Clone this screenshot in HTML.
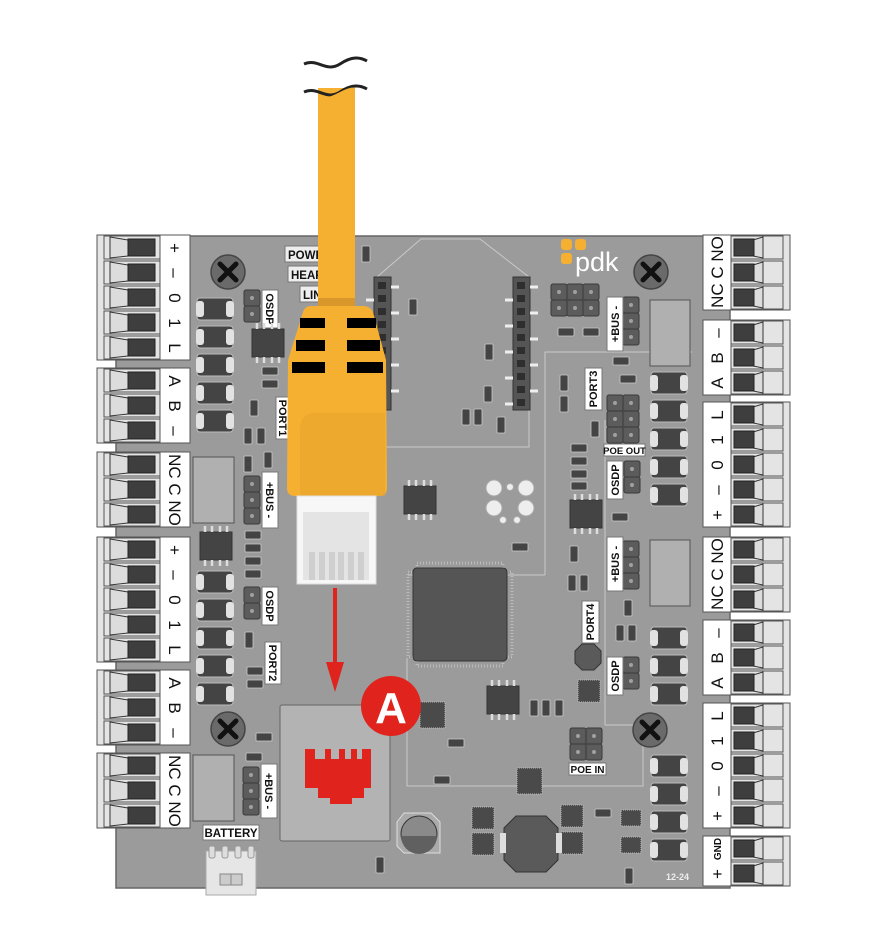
<!DOCTYPE html>
<html><head><meta charset="utf-8"><style>
html,body{margin:0;padding:0;background:#fff;}
svg{display:block;}
text{font-family:"Liberation Sans",Arial,sans-serif;}
</style></head><body>
<svg width="889" height="951" viewBox="0 0 889 951" xmlns="http://www.w3.org/2000/svg">
<defs>
  <g id="pinL">
    <rect x="104" y="1" width="56" height="23" fill="#e4e4e4" stroke="#555" stroke-width="1"/>
    <polygon points="110,2 128,5 128,21 110,23" fill="#dcdcdc" stroke="#333" stroke-width="1"/>
    <rect x="128" y="4" width="27" height="17" fill="#3e3e3e" stroke="#222"/>
  </g>
  <g id="pinR">
    <rect x="731" y="1" width="52" height="23" fill="#e4e4e4" stroke="#555" stroke-width="1"/>
    <polygon points="763,2 753,5 753,21 763,23" fill="#dcdcdc" stroke="#333" stroke-width="1"/>
    <rect x="734" y="4" width="20" height="17" fill="#3e3e3e" stroke="#222"/>
  </g>
  <g id="dio">
    <rect x="0" y="0" width="36" height="22" rx="3" fill="#444" stroke="#bbb"/>
    <rect x="-1" y="3" width="8" height="16" rx="3" fill="#e2e2e2"/>
    <rect x="29" y="3" width="8" height="16" rx="3" fill="#e2e2e2"/>
  </g>
  <g id="rv">
    <rect x="-4" y="-8" width="8" height="16" rx="1" fill="#444" stroke="#ccc" stroke-width="0.8"/>
  </g>
  <g id="rh">
    <rect x="-8" y="-4" width="16" height="8" rx="1" fill="#444" stroke="#ccc" stroke-width="0.8"/>
  </g>
  <g id="hp">
    <rect x="0" y="0" width="16" height="16" rx="2" fill="#5c5c5c" stroke="#3a3a3a"/>
    <circle cx="8" cy="8" r="2" fill="#a0a0a0"/>
  </g>
  <g id="screw">
    <circle r="17" fill="#6a6a6a" stroke="#444" stroke-width="1.5"/>
    <path d="M-8,-8 L8,8 M8,-8 L-8,8" stroke="#111" stroke-width="5" stroke-linecap="round"/>
  </g>
  <g id="chip8">
    <rect x="0" y="6" width="32" height="28" fill="#444" stroke="#333"/>
    <path d="M5,0v6M12,0v6M20,0v6M27,0v6M5,34v6M12,34v6M20,34v6M27,34v6" stroke="#ddd" stroke-width="2.5"/>
  </g>
</defs>

<!-- board -->
<rect x="116" y="236" width="614" height="652" fill="#9b9b9b" stroke="#666" stroke-width="1.5"/>

<!-- left connectors -->
<g>
  <rect x="97" y="235" width="63" height="125" fill="#e4e4e4" stroke="#555"/>
  <rect x="160" y="235" width="30" height="125" fill="#fff" stroke="#555"/>
  <use href="#pinL" y="235"/><use href="#pinL" y="260"/><use href="#pinL" y="285"/><use href="#pinL" y="310"/><use href="#pinL" y="335"/>
  <rect x="97" y="368" width="63" height="75" fill="#e4e4e4" stroke="#555"/>
  <rect x="160" y="368" width="30" height="75" fill="#fff" stroke="#555"/>
  <use href="#pinL" y="368"/><use href="#pinL" y="393"/><use href="#pinL" y="418"/>
  <rect x="97" y="452" width="63" height="75" fill="#e4e4e4" stroke="#555"/>
  <rect x="160" y="452" width="30" height="75" fill="#fff" stroke="#555"/>
  <use href="#pinL" y="452"/><use href="#pinL" y="477"/><use href="#pinL" y="502"/>
  <rect x="97" y="537" width="63" height="125" fill="#e4e4e4" stroke="#555"/>
  <rect x="160" y="537" width="30" height="125" fill="#fff" stroke="#555"/>
  <use href="#pinL" y="537"/><use href="#pinL" y="562"/><use href="#pinL" y="587"/><use href="#pinL" y="612"/><use href="#pinL" y="637"/>
  <rect x="97" y="670" width="63" height="75" fill="#e4e4e4" stroke="#555"/>
  <rect x="160" y="670" width="30" height="75" fill="#fff" stroke="#555"/>
  <use href="#pinL" y="670"/><use href="#pinL" y="695"/><use href="#pinL" y="720"/>
  <rect x="97" y="753" width="63" height="75" fill="#e4e4e4" stroke="#555"/>
  <rect x="160" y="753" width="30" height="75" fill="#fff" stroke="#555"/>
  <use href="#pinL" y="753"/><use href="#pinL" y="778"/><use href="#pinL" y="803"/>
</g>
<g font-size="17" fill="#111" text-anchor="middle">
  <text transform="translate(175,248) rotate(90)" dy="6">+</text>
  <text transform="translate(175,273) rotate(90)" dy="6">–</text>
  <text transform="translate(175,298) rotate(90)" dy="6">0</text>
  <text transform="translate(175,323) rotate(90)" dy="6">1</text>
  <text transform="translate(175,348) rotate(90)" dy="6">L</text>
  <text transform="translate(175,381) rotate(90)" dy="6">A</text>
  <text transform="translate(175,406) rotate(90)" dy="6">B</text>
  <text transform="translate(175,431) rotate(90)" dy="6">–</text>
  <text transform="translate(175,490) rotate(90)" dy="6">NC C NO</text>
  <text transform="translate(175,550) rotate(90)" dy="6">+</text>
  <text transform="translate(175,575) rotate(90)" dy="6">–</text>
  <text transform="translate(175,600) rotate(90)" dy="6">0</text>
  <text transform="translate(175,625) rotate(90)" dy="6">1</text>
  <text transform="translate(175,650) rotate(90)" dy="6">L</text>
  <text transform="translate(175,683) rotate(90)" dy="6">A</text>
  <text transform="translate(175,708) rotate(90)" dy="6">B</text>
  <text transform="translate(175,733) rotate(90)" dy="6">–</text>
  <text transform="translate(175,791) rotate(90)" dy="6">NC C NO</text>
</g>

<!-- right connectors -->
<g>
  <rect x="731" y="235" width="59" height="75" fill="#e4e4e4" stroke="#555"/>
  <rect x="703" y="235" width="28" height="75" fill="#fff" stroke="#555"/>
  <use href="#pinR" y="235"/><use href="#pinR" y="260"/><use href="#pinR" y="285"/>
  <rect x="731" y="320" width="59" height="75" fill="#e4e4e4" stroke="#555"/>
  <rect x="703" y="320" width="28" height="75" fill="#fff" stroke="#555"/>
  <use href="#pinR" y="320"/><use href="#pinR" y="345"/><use href="#pinR" y="370"/>
  <rect x="731" y="402" width="59" height="125" fill="#e4e4e4" stroke="#555"/>
  <rect x="703" y="402" width="28" height="125" fill="#fff" stroke="#555"/>
  <use href="#pinR" y="402"/><use href="#pinR" y="427"/><use href="#pinR" y="452"/><use href="#pinR" y="477"/><use href="#pinR" y="502"/>
  <rect x="731" y="537" width="59" height="75" fill="#e4e4e4" stroke="#555"/>
  <rect x="703" y="537" width="28" height="75" fill="#fff" stroke="#555"/>
  <use href="#pinR" y="537"/><use href="#pinR" y="562"/><use href="#pinR" y="587"/>
  <rect x="731" y="620" width="59" height="75" fill="#e4e4e4" stroke="#555"/>
  <rect x="703" y="620" width="28" height="75" fill="#fff" stroke="#555"/>
  <use href="#pinR" y="620"/><use href="#pinR" y="645"/><use href="#pinR" y="670"/>
  <rect x="731" y="703" width="59" height="125" fill="#e4e4e4" stroke="#555"/>
  <rect x="703" y="703" width="28" height="125" fill="#fff" stroke="#555"/>
  <use href="#pinR" y="703"/><use href="#pinR" y="728"/><use href="#pinR" y="753"/><use href="#pinR" y="778"/><use href="#pinR" y="803"/>
  <rect x="731" y="836" width="59" height="50" fill="#e4e4e4" stroke="#555"/>
  <rect x="703" y="836" width="28" height="50" fill="#fff" stroke="#555"/>
  <use href="#pinR" y="836"/><use href="#pinR" y="861"/>
</g>
<g font-size="17" fill="#111" text-anchor="middle">
  <text transform="translate(717,272) rotate(-90)" dy="6">NC C NO</text>
  <text transform="translate(717,333) rotate(-90)" dy="6">–</text>
  <text transform="translate(717,358) rotate(-90)" dy="6">B</text>
  <text transform="translate(717,383) rotate(-90)" dy="6">A</text>
  <text transform="translate(717,415) rotate(-90)" dy="6">L</text>
  <text transform="translate(717,440) rotate(-90)" dy="6">1</text>
  <text transform="translate(717,465) rotate(-90)" dy="6">0</text>
  <text transform="translate(717,490) rotate(-90)" dy="6">–</text>
  <text transform="translate(717,515) rotate(-90)" dy="6">+</text>
  <text transform="translate(717,574) rotate(-90)" dy="6">NC C NO</text>
  <text transform="translate(717,633) rotate(-90)" dy="6">–</text>
  <text transform="translate(717,658) rotate(-90)" dy="6">B</text>
  <text transform="translate(717,683) rotate(-90)" dy="6">A</text>
  <text transform="translate(717,716) rotate(-90)" dy="6">L</text>
  <text transform="translate(717,741) rotate(-90)" dy="6">1</text>
  <text transform="translate(717,766) rotate(-90)" dy="6">0</text>
  <text transform="translate(717,791) rotate(-90)" dy="6">–</text>
  <text transform="translate(717,816) rotate(-90)" dy="6">+</text>
  <text transform="translate(717,849) rotate(-90)" dy="4" font-size="10" font-weight="bold">GND</text>
  <text transform="translate(717,874) rotate(-90)" dy="6">+</text>
</g>

<!-- outlines -->
<g fill="none" stroke="#c9c9c9" stroke-width="1">
  <polyline points="377,277 421,239 480,239 529,277 529,447 377,447"/>
  <polyline points="545,575 545,352 692,352"/>
  <polyline points="408,575 545,575"/>
  <polyline points="407,658 407,786 643,786 643,725"/>
  <polyline points="605,420 605,725 643,725"/>
</g>

<!-- screws -->
<use href="#screw" x="228" y="272"/>
<use href="#screw" x="651" y="272"/>
<use href="#screw" x="228" y="729"/>
<use href="#screw" x="650" y="730"/>

<!-- diodes left -->
<use href="#dio" x="197" y="298"/><use href="#dio" x="197" y="326"/><use href="#dio" x="197" y="354"/><use href="#dio" x="197" y="382"/><use href="#dio" x="197" y="410"/>
<use href="#dio" x="197" y="571"/><use href="#dio" x="197" y="599"/><use href="#dio" x="197" y="627"/><use href="#dio" x="197" y="655"/><use href="#dio" x="197" y="683"/>
<!-- diodes right -->
<use href="#dio" x="651" y="372"/><use href="#dio" x="651" y="400"/><use href="#dio" x="651" y="428"/><use href="#dio" x="651" y="456"/><use href="#dio" x="651" y="484"/>
<use href="#dio" x="651" y="627"/><use href="#dio" x="651" y="655"/><use href="#dio" x="651" y="683"/>
<use href="#dio" x="651" y="755"/><use href="#dio" x="651" y="783"/><use href="#dio" x="651" y="811"/><use href="#dio" x="651" y="839"/>

<!-- relays -->
<rect x="193" y="457" width="41" height="66" fill="#b0b0b0" stroke="#555"/>
<rect x="193" y="755" width="41" height="66" fill="#b0b0b0" stroke="#555"/>
<rect x="650" y="300" width="40" height="66" fill="#b0b0b0" stroke="#555"/>
<rect x="650" y="540" width="40" height="66" fill="#b0b0b0" stroke="#555"/>

<!-- header pins left -->
<use href="#hp" x="244" y="290"/><use href="#hp" x="244" y="306"/>
<use href="#hp" x="244" y="476"/><use href="#hp" x="244" y="492"/><use href="#hp" x="244" y="508"/>
<use href="#hp" x="244" y="587"/><use href="#hp" x="244" y="603"/>
<use href="#hp" x="243" y="767"/><use href="#hp" x="243" y="783"/><use href="#hp" x="243" y="799"/>
<!-- header pins right -->
<use href="#hp" x="551" y="284"/><use href="#hp" x="567" y="284"/><use href="#hp" x="583" y="284"/>
<use href="#hp" x="551" y="300"/><use href="#hp" x="567" y="300"/><use href="#hp" x="583" y="300"/>
<use href="#hp" x="623" y="297"/><use href="#hp" x="623" y="313"/><use href="#hp" x="623" y="329"/>
<use href="#hp" x="607" y="395"/><use href="#hp" x="623" y="395"/><use href="#hp" x="607" y="411"/><use href="#hp" x="623" y="411"/><use href="#hp" x="607" y="427"/><use href="#hp" x="623" y="427"/>
<use href="#hp" x="624" y="461"/><use href="#hp" x="624" y="477"/>
<use href="#hp" x="623" y="541"/><use href="#hp" x="623" y="557"/><use href="#hp" x="623" y="573"/>
<use href="#hp" x="623" y="657"/><use href="#hp" x="623" y="673"/>
<use href="#hp" x="570" y="728"/><use href="#hp" x="586" y="728"/><use href="#hp" x="570" y="744"/><use href="#hp" x="586" y="744"/>

<!-- small labels -->
<g font-size="11" font-weight="bold" fill="#111">
  <rect x="262" y="290" width="16" height="38" fill="#fff" stroke="#777"/>
  <text transform="translate(270,309) rotate(90)" text-anchor="middle" dy="4">OSDP</text>
  <rect x="262" y="472" width="16" height="56" fill="#fff" stroke="#777"/>
  <text transform="translate(270,500) rotate(90)" text-anchor="middle" dy="4">+BUS -</text>
  <rect x="262" y="587" width="16" height="38" fill="#fff" stroke="#777"/>
  <text transform="translate(270,606) rotate(90)" text-anchor="middle" dy="4">OSDP</text>
  <rect x="265" y="642" width="16" height="42" fill="#fff" stroke="#777"/>
  <text transform="translate(273,663) rotate(90)" text-anchor="middle" dy="4">PORT2</text>
  <rect x="276" y="397" width="14" height="42" fill="#fff" stroke="#777"/>
  <text transform="translate(283,418) rotate(90)" text-anchor="middle" dy="4">PORT1</text>
  <rect x="261" y="764" width="16" height="54" fill="#fff" stroke="#777"/>
  <text transform="translate(269,791) rotate(90)" text-anchor="middle" dy="4">+BUS -</text>
  <rect x="607" y="297" width="16" height="54" fill="#fff" stroke="#777"/>
  <text transform="translate(615,324) rotate(-90)" text-anchor="middle" dy="4">+BUS -</text>
  <rect x="585" y="368" width="17" height="42" fill="#fff" stroke="#777"/>
  <text transform="translate(593,389) rotate(-90)" text-anchor="middle" dy="4">PORT3</text>
  <rect x="604" y="444" width="41" height="12" fill="#fff" stroke="#777"/>
  <text x="624.5" y="454" text-anchor="middle" font-size="9.5">POE OUT</text>
  <rect x="607" y="461" width="16" height="38" fill="#fff" stroke="#777"/>
  <text transform="translate(615,480) rotate(-90)" text-anchor="middle" dy="4">OSDP</text>
  <rect x="607" y="537" width="16" height="54" fill="#fff" stroke="#777"/>
  <text transform="translate(615,564) rotate(-90)" text-anchor="middle" dy="4">+BUS -</text>
  <rect x="582" y="601" width="17" height="42" fill="#fff" stroke="#777"/>
  <text transform="translate(590,622) rotate(-90)" text-anchor="middle" dy="4">PORT4</text>
  <rect x="607" y="657" width="16" height="38" fill="#fff" stroke="#777"/>
  <text transform="translate(615,676) rotate(-90)" text-anchor="middle" dy="4">OSDP</text>
  <rect x="569" y="763" width="37" height="12" fill="#fff" stroke="#777"/>
  <text x="587.5" y="773" text-anchor="middle" font-size="10">POE IN</text>
  <rect x="203" y="825" width="56" height="15" fill="#fff" stroke="#777"/>
  <text x="231" y="837" text-anchor="middle" font-size="11.5">BATTERY</text>
  <rect x="285" y="246" width="55" height="16" fill="#eee" stroke="#777"/>
  <text x="288" y="259" font-size="11.5">POWER</text>
  <rect x="288" y="266" width="52" height="16" fill="#eee" stroke="#777"/>
  <text x="291" y="279" font-size="11.5">HEART</text>
  <rect x="300" y="286" width="40" height="16" fill="#eee" stroke="#777"/>
  <text x="303" y="299" font-size="11.5">LINK</text>
</g>
<text x="666" y="880" font-size="9" font-weight="bold" fill="#eee">12-24</text>

<!-- pdk logo -->
<rect x="561" y="239" width="11" height="11" rx="3" fill="#f5b031"/>
<rect x="575" y="239" width="11" height="11" rx="3" fill="#f5b031"/>
<rect x="561" y="253" width="11" height="11" rx="3" fill="#f5b031"/>
<text x="575" y="271" font-size="27" fill="#fff">pdk</text>

<!-- xbee headers -->
<rect x="374" y="277" width="17" height="133" fill="#555" stroke="#333"/>
<rect x="513" y="277" width="17" height="133" fill="#555" stroke="#333"/>
<g fill="#2e2e2e">
  <rect x="378" y="282" width="8" height="7"/><rect x="378" y="295" width="8" height="7"/><rect x="378" y="308" width="8" height="7"/><rect x="378" y="321" width="8" height="7"/><rect x="378" y="334" width="8" height="7"/><rect x="378" y="347" width="8" height="7"/><rect x="378" y="360" width="8" height="7"/><rect x="378" y="373" width="8" height="7"/><rect x="378" y="386" width="8" height="7"/><rect x="378" y="399" width="8" height="7"/>
  <rect x="517" y="282" width="8" height="7"/><rect x="517" y="295" width="8" height="7"/><rect x="517" y="308" width="8" height="7"/><rect x="517" y="321" width="8" height="7"/><rect x="517" y="334" width="8" height="7"/><rect x="517" y="347" width="8" height="7"/><rect x="517" y="360" width="8" height="7"/><rect x="517" y="373" width="8" height="7"/><rect x="517" y="386" width="8" height="7"/><rect x="517" y="399" width="8" height="7"/>
</g>
<g stroke="#eee" stroke-width="3">
  <path d="M391,287h8M391,313h8M391,339h8M391,365h8M391,391h8M366,300h8M505,300h8M505,326h8M505,352h8M505,378h8M505,404h8M530,287h8M530,313h8M530,339h8M530,365h8M530,391h8"/>
</g>

<!-- small parts -->
<use href="#rv" x="366" y="254"/><use href="#rv" x="413" y="307"/><use href="#rv" x="489" y="352"/><use href="#rv" x="488" y="394"/>
<use href="#rv" x="466" y="417"/><use href="#rv" x="478" y="417"/><use href="#rv" x="501" y="425"/>
<use href="#rh" x="270" y="371"/><use href="#rh" x="270" y="384"/><use href="#rv" x="254" y="408"/>
<use href="#rv" x="248" y="436"/><use href="#rv" x="261" y="436"/><use href="#rv" x="248" y="464"/><use href="#rv" x="268" y="460"/>
<use href="#rh" x="253" y="535"/><use href="#rh" x="253" y="548"/><use href="#rh" x="253" y="561"/><use href="#rh" x="253" y="574"/>
<use href="#rv" x="249" y="640"/><use href="#rh" x="255" y="671"/><use href="#rh" x="255" y="684"/>
<use href="#rh" x="264" y="737"/><use href="#rh" x="254" y="757"/>
<use href="#rh" x="566" y="332"/><use href="#rh" x="591" y="332"/><use href="#rh" x="621" y="361"/><use href="#rh" x="628" y="379"/>
<use href="#rv" x="564" y="383"/><use href="#rv" x="564" y="404"/><use href="#rv" x="595" y="429"/>
<use href="#rh" x="579" y="448"/><use href="#rh" x="579" y="461"/><use href="#rh" x="579" y="474"/><use href="#rh" x="579" y="486"/>
<use href="#rh" x="620" y="517"/><use href="#rh" x="520" y="547"/><use href="#rv" x="574" y="554"/>
<use href="#rv" x="572" y="583"/><use href="#rv" x="584" y="583"/><use href="#rv" x="628" y="608"/>
<use href="#rv" x="620" y="633"/><use href="#rv" x="632" y="633"/>
<use href="#rv" x="534" y="708"/><use href="#rv" x="546" y="708"/><use href="#rv" x="559" y="708"/>
<use href="#rh" x="456" y="743"/><use href="#rh" x="442" y="780"/><use href="#rh" x="603" y="813"/>
<use href="#rv" x="380" y="865"/><use href="#rv" x="629" y="876"/>

<!-- chips -->
<use href="#chip8" x="252" y="323" transform="rotate(0)"/>
<use href="#chip8" x="404" y="480"/>
<use href="#chip8" x="570" y="494"/>
<use href="#chip8" x="200" y="526"/>
<use href="#chip8" x="487" y="680"/>
<rect x="413" y="568" width="94" height="93" rx="4" fill="#555" stroke="#333"/>
<rect x="408" y="572" width="104" height="85" fill="none" stroke="#bbb" stroke-width="3" stroke-dasharray="1 2"/>
<rect x="417" y="563" width="86" height="103" fill="none" stroke="#bbb" stroke-width="3" stroke-dasharray="1 2"/>
<rect x="413" y="568" width="94" height="93" rx="4" fill="#555" stroke="#333"/>
<rect x="420" y="702" width="25" height="26" fill="#4a4a4a" stroke="#bbb" stroke-dasharray="1 1"/>
<rect x="517" y="768" width="25" height="26" fill="#4a4a4a" stroke="#bbb" stroke-dasharray="1 1"/>
<rect x="578" y="680" width="22" height="22" fill="#4a4a4a" stroke="#bbb" stroke-dasharray="1 1"/>
<polygon points="582,644 594,644 601,651 601,663 594,670 582,670 575,663 575,651" fill="#5a5a5a" stroke="#333"/>
<!-- circles -->
<g fill="#eee" stroke="#aaa">
  <circle cx="494" cy="488" r="8"/><circle cx="526" cy="488" r="8"/><circle cx="494" cy="508" r="8"/><circle cx="526" cy="508" r="8"/>
  <circle cx="510" cy="487" r="3.5"/><circle cx="503" cy="520" r="3.5"/><circle cx="517" cy="520" r="3.5"/>
</g>
<!-- bottom parts -->
<rect x="472" y="807" width="22" height="22" fill="#4a4a4a" stroke="#bbb" stroke-dasharray="1 1"/>
<rect x="472" y="833" width="22" height="22" fill="#4a4a4a" stroke="#bbb" stroke-dasharray="1 1"/>
<rect x="561" y="805" width="22" height="22" fill="#4a4a4a" stroke="#bbb" stroke-dasharray="1 1"/>
<rect x="561" y="832" width="22" height="22" fill="#4a4a4a" stroke="#bbb" stroke-dasharray="1 1"/>
<rect x="621" y="810" width="20" height="16" fill="#4a4a4a" stroke="#bbb" stroke-dasharray="1 1"/>
<rect x="621" y="837" width="20" height="16" fill="#4a4a4a" stroke="#bbb" stroke-dasharray="1 1"/>
<polygon points="516,816 546,816 558,828 558,860 546,872 516,872 504,860 504,828" fill="#5a5a5a" stroke="#333"/>
<rect x="500" y="833" width="6" height="20" fill="#ddd"/><rect x="556" y="833" width="6" height="20" fill="#ddd"/>
<polygon points="404,813 431,813 440,822 440,853 404,853 397,846 397,822" fill="#aaa" stroke="#ddd"/>
<circle cx="419" cy="834" r="18" fill="#8a8a8a" stroke="#333"/>
<path d="M401,836 H437 A18,18 0 0 1 401,836 Z" fill="#606060"/>
<!-- battery connector -->
<rect x="206" y="851" width="50" height="44" fill="#e6e6e6" stroke="#aaa"/>
<g fill="#ddd" stroke="#999"><rect x="209" y="846" width="6" height="12" rx="2"/><rect x="222" y="846" width="6" height="12" rx="2"/><rect x="235" y="846" width="6" height="12" rx="2"/><rect x="248" y="846" width="6" height="12" rx="2"/></g>
<rect x="220" y="874" width="22" height="11" fill="#ccc" stroke="#888"/><line x1="231" y1="874" x2="231" y2="885" stroke="#888"/>

<!-- RJ45 port -->
<rect x="280" y="705" width="110" height="136" rx="2" fill="#b3b3b3" stroke="#666"/>
<path d="M305,749 H315 V759 H325 V749 H331 V759 H339 V749 H345 V759 H351 V749 H357 V759 H362 V749 H371 V788 H364 V798 H352 V804 H330 V798 H318 V788 H305 Z" fill="#e0231c"/>

<!-- arrow -->
<line x1="335" y1="588" x2="335" y2="665" stroke="#e0231c" stroke-width="4"/>
<polygon points="326,662 344,662 335,692" fill="#e0231c"/>
<circle cx="391" cy="706" r="30" fill="#e0231c"/>
<text x="391" y="723" font-size="44" font-weight="bold" fill="#fff" text-anchor="middle">A</text>

<!-- cable -->
<rect x="318" y="70" width="37" height="240" fill="#f5b031"/>
<rect x="300" y="62" width="72" height="26" fill="#fff"/>
<path d="M304,64 C318,58 326,73 340,64 C352,56 360,57 367,61" fill="none" stroke="#222" stroke-width="3"/>
<path d="M304,92 C318,86 326,101 340,92 C352,84 360,85 367,89" fill="none" stroke="#222" stroke-width="3"/>
<path d="M318,97 C326,99 332,96 340,92 C348,88 352,87 355,88 V110 H318 Z" fill="#f5b031"/>
<rect x="318" y="298" width="37" height="9" fill="#d9962a"/>
<path d="M311,306 H363 Q370,306 373,312 L386,360 L387,488 Q387,496 379,496 H295 Q287,496 287,488 L288,360 L303,312 Q305,306 311,306 Z" fill="#f5b031"/>
<path d="M300,430 Q300,414 314,413 H385 V496 H300 Z" fill="#e5a22a" opacity="0.5"/>
<path d="M300,496 V440 Q300,414 330,414 H387 V420 Q320,420 305,496 Z" fill="#f5b031" opacity="0"/>
<g fill="#000">
  <rect x="300" y="318" width="25" height="10"/><rect x="347" y="318" width="29" height="10"/>
  <rect x="296" y="340" width="29" height="11"/><rect x="347" y="340" width="33" height="11"/>
  <rect x="292" y="362" width="33" height="11"/><rect x="347" y="362" width="36" height="11"/>
</g>
<!-- plug -->
<rect x="297" y="496" width="79" height="88" fill="#f7f7f7" stroke="#ddd"/>
<rect x="303" y="512" width="66" height="68" fill="#e4e4e4"/>
<g fill="#cfcfcf"><rect x="309" y="552" width="6" height="28"/><rect x="319" y="552" width="6" height="28"/><rect x="329" y="552" width="6" height="28"/><rect x="338" y="552" width="6" height="28"/><rect x="348" y="552" width="6" height="28"/><rect x="358" y="552" width="6" height="28"/></g>
</svg>
</body></html>
